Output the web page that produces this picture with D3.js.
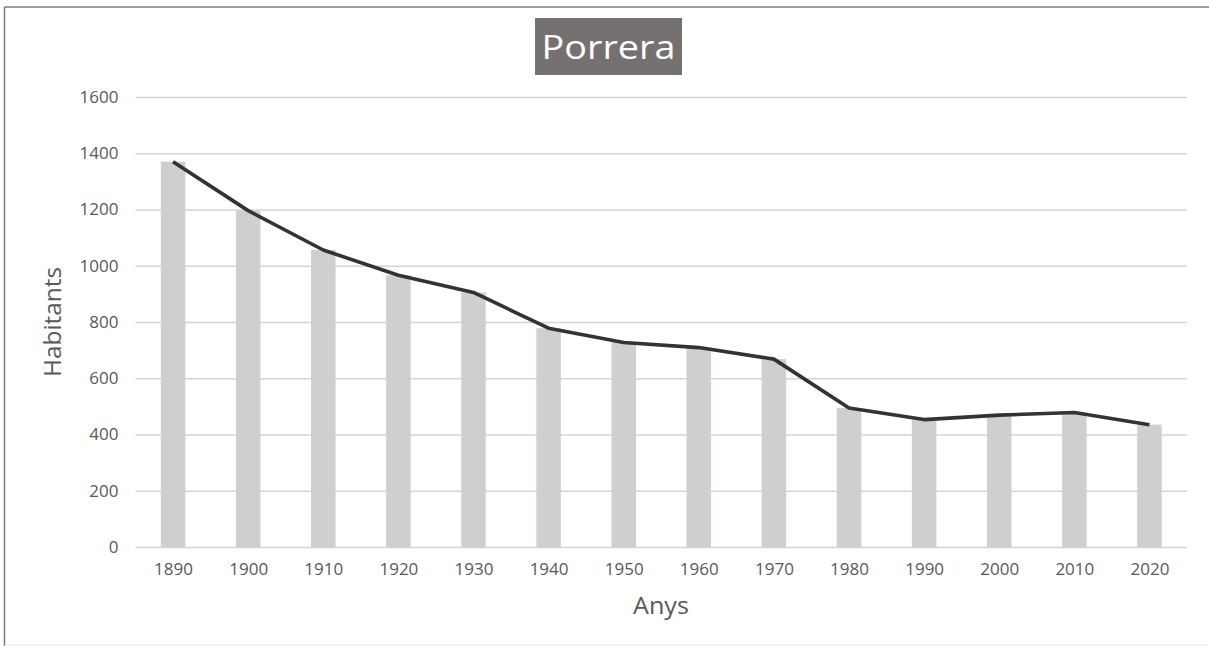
<!DOCTYPE html>
<html><head><meta charset="utf-8">
<script src="https://cdn.jsdelivr.net/npm/d3@7"></script>
<style>body{margin:0;background:#fff}svg{display:block}</style>
</head><body>
<script>
const years = ["1890","1900","1910","1920","1930","1940","1950","1960","1970","1980","1990","2000","2010","2020"];
const habitants = [1370,1196,1056,966,905,778,727,709,668,494,453,469,478,435];
const yTicks = [0,200,400,600,800,1000,1200,1400,1600];
const title = "Porrera";
const xTitle = "Anys";
const yTitle = "Habitants";

const W = 1209, H = 646;
const m = {left:135.5, right:22, top:97, bottom:99};
const font = "'Open Sans', sans-serif";
const svg = d3.select("body").append("svg").attr("width",W).attr("height",H);
svg.append("rect").attr("x",0).attr("y",0).attr("width",W).attr("height",H).attr("fill","#fff");
// frame
svg.append("line").attr("x1",4.5).attr("x2",4.5).attr("y1",7).attr("y2",646).attr("stroke","#7a7a7a").attr("stroke-width",1.5);
svg.append("line").attr("x1",4.5).attr("x2",W).attr("y1",7).attr("y2",7).attr("stroke","#7a7a7a").attr("stroke-width",1.5);
svg.append("line").attr("x1",4.5).attr("x2",W).attr("y1",645).attr("y2",645).attr("stroke","#e6e6e6").attr("stroke-width",1);

const xc = d3.scalePoint().domain(years).range([m.left, W-m.right]).padding(0.5);
const y = d3.scaleLinear().domain([0,1600]).range([H-m.bottom, m.top]);

// gridlines + y labels
const gy = svg.append("g").attr("transform",`translate(${m.left},0)`)
  .call(d3.axisLeft(y).tickValues(yTicks).tickSize(-(W-m.right-m.left)).tickFormat(d=>d).tickPadding(17));
gy.select(".domain").remove();
gy.selectAll(".tick line").attr("stroke","#d4d4d4").attr("stroke-width",1.6);
gy.selectAll(".tick text").attr("fill","#595959").attr("font-family",font).attr("font-size","17px");

// bars
const bw = 24.5;
svg.append("g").selectAll("rect").data(habitants).join("rect")
  .attr("x",(d,i)=>xc(years[i])-bw/2).attr("width",bw)
  .attr("y",d=>y(d)).attr("height",d=>y(0)-y(d)).attr("fill","#d0cece");

// x axis labels
const gx = svg.append("g").attr("transform",`translate(0,${H-m.bottom})`)
  .call(d3.axisBottom(xc).tickSize(0).tickPadding(16));
gx.select(".domain").remove();
gx.selectAll(".tick text").attr("fill","#595959").attr("font-family",font).attr("font-size","17px");

// line
const line = d3.line().x((d,i)=>xc(years[i])).y(d=>y(d));
svg.append("path").datum(habitants).attr("d",line).attr("fill","none")
  .attr("stroke","#333333").attr("stroke-width",3.6).attr("stroke-linejoin","round");

// title
svg.append("rect").attr("x",535).attr("y",18).attr("width",147).attr("height",57).attr("fill","#757170");
svg.append("text").attr("x",608.5).attr("y",59).attr("text-anchor","middle")
  .attr("textLength",134).attr("lengthAdjust","spacingAndGlyphs")
  .attr("fill","#fff").attr("font-family",font).attr("font-size","32.5px").text(title);

// axis titles
svg.append("text").attr("x",661).attr("y",614).attr("text-anchor","middle")
  .attr("textLength",56).attr("lengthAdjust","spacingAndGlyphs")
  .attr("fill","#595959").attr("font-family",font).attr("font-size","23.5px").text(xTitle);
svg.append("text").attr("transform","translate(61,322) rotate(-90)").attr("text-anchor","middle")
  .attr("textLength",110).attr("lengthAdjust","spacingAndGlyphs")
  .attr("fill","#595959").attr("font-family",font).attr("font-size","23.5px").text(yTitle);
</script>
</body></html>
